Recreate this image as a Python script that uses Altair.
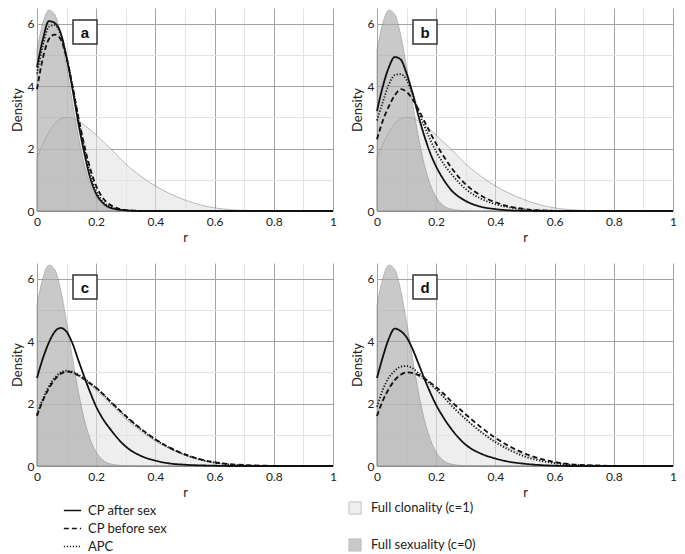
import altair as alt
import pandas as pd

# ---- data ----
R = [0.0, 0.02, 0.04, 0.06, 0.08, 0.10, 0.12, 0.14, 0.16, 0.18, 0.20, 0.22, 0.25,
     0.30, 0.35, 0.40, 0.45, 0.50, 0.55, 0.60, 0.65, 0.70, 0.80, 0.90, 1.00]

SEXUALITY = [5.15, 6.02, 6.43, 6.29, 5.63, 4.60, 3.45, 2.36, 1.48, 0.85, 0.44, 0.21, 0.06,
             0.01, 0, 0, 0, 0, 0, 0, 0, 0, 0, 0, 0]
CLONALITY = [1.70, 2.15, 2.52, 2.80, 2.95, 3.00, 2.97, 2.88, 2.75, 2.60, 2.43, 2.25, 1.98,
             1.50, 1.12, 0.80, 0.55, 0.35, 0.20, 0.10, 0.045, 0.02, 0.003, 0, 0]

A_SOLID = [4.60, 5.50, 6.08, 6.02, 5.70, 4.90, 3.90, 2.80, 1.85, 1.05, 0.55, 0.28, 0.10,
           0.02, 0, 0, 0, 0, 0, 0, 0, 0, 0, 0, 0]
A_DASH = [3.90, 4.90, 5.50, 5.65, 5.50, 4.90, 4.00, 3.00, 2.10, 1.35, 0.80, 0.45, 0.18,
          0.03, 0.005, 0, 0, 0, 0, 0, 0, 0, 0, 0, 0]
A_DOT = [4.40, 5.30, 5.90, 5.95, 5.65, 4.95, 4.00, 2.95, 2.00, 1.20, 0.65, 0.33, 0.12,
         0.02, 0, 0, 0, 0, 0, 0, 0, 0, 0, 0, 0]

B_SOLID = [3.20, 4.00, 4.60, 4.93, 4.85, 4.40, 3.78, 3.05, 2.40, 1.85, 1.42, 1.08, 0.68,
           0.32, 0.14, 0.06, 0.02, 0.005, 0, 0, 0, 0, 0, 0, 0]
B_DASH = [2.30, 2.90, 3.35, 3.70, 3.90, 3.82, 3.58, 3.25, 2.88, 2.50, 2.15, 1.83, 1.40,
          0.85, 0.50, 0.28, 0.14, 0.06, 0.02, 0.005, 0, 0, 0, 0, 0]
B_DOT = [2.90, 3.50, 4.05, 4.35, 4.38, 4.20, 3.75, 3.20, 2.72, 2.28, 1.90, 1.58, 1.20,
         0.70, 0.40, 0.22, 0.11, 0.05, 0.02, 0.005, 0, 0, 0, 0, 0]

C_SOLID = [2.82, 3.45, 3.95, 4.30, 4.42, 4.30, 3.92, 3.38, 2.85, 2.35, 1.90, 1.55, 1.15,
           0.62, 0.33, 0.17, 0.08, 0.04, 0.02, 0.01, 0, 0, 0, 0, 0]
C_DASH = [1.60, 2.10, 2.48, 2.77, 2.95, 3.02, 2.99, 2.90, 2.78, 2.64, 2.50, 2.33, 2.05,
          1.60, 1.20, 0.86, 0.58, 0.37, 0.22, 0.12, 0.06, 0.03, 0.005, 0, 0]
C_DOT = [1.65, 2.15, 2.55, 2.83, 3.00, 3.05, 3.02, 2.92, 2.79, 2.65, 2.50, 2.33, 2.04,
         1.58, 1.18, 0.84, 0.57, 0.36, 0.21, 0.11, 0.05, 0.02, 0.003, 0, 0]

D_SOLID = [2.82, 3.50, 4.08, 4.40, 4.32, 4.12, 3.75, 3.28, 2.80, 2.35, 1.95, 1.62, 1.20,
           0.68, 0.40, 0.24, 0.13, 0.07, 0.03, 0.01, 0, 0, 0, 0, 0]
D_DASH = [1.60, 2.10, 2.47, 2.75, 2.92, 3.00, 2.98, 2.91, 2.80, 2.67, 2.52, 2.36, 2.08,
          1.65, 1.25, 0.90, 0.62, 0.40, 0.24, 0.13, 0.06, 0.03, 0.005, 0, 0]
D_DOT = [1.90, 2.45, 2.83, 3.05, 3.18, 3.20, 3.13, 2.98, 2.82, 2.64, 2.45, 2.26, 1.95,
         1.50, 1.10, 0.76, 0.50, 0.30, 0.17, 0.09, 0.04, 0.02, 0.003, 0, 0]

SERIES = ["CP after sex", "CP before sex", "APC"]
AREA_KINDS = ["Full clonality (c=1)", "Full sexuality (c=0)"]
X_TICKS = [0, 0.1, 0.2, 0.3, 0.4, 0.5, 0.6, 0.7, 0.8, 0.9, 1]
Y_TICKS = [0, 1, 2, 3, 4, 5, 6]

# ---- layout / style ----
W, H = 296, 203
FONT = "Lato"
TXT = "#222222"
MAJOR = "#a3a3a3"
MINOR = "#e3e3e3"

area_df = pd.DataFrame({
    "r": R + R,
    "density": CLONALITY + SEXUALITY,
    "kind": [AREA_KINDS[0]] * len(R) + [AREA_KINDS[1]] * len(R),
})

x_enc = alt.X(
    "r:Q", title="r",
    scale=alt.Scale(domain=[0, 1], nice=False),
    axis=alt.Axis(
        values=X_TICKS,
        labelExpr="round(datum.value*10) % 2 == 0 ? format(datum.value, '~g') : ''",
        gridColor=alt.condition("round(datum.value*10) % 2 == 0", alt.value(MAJOR), alt.value(MINOR)),
        ticks=False, domain=False, labelFlush=False, labelPadding=5, titlePadding=4,
    ),
)
y_enc = alt.Y(
    "density:Q", title="Density", stack=None,
    scale=alt.Scale(domain=[0, 6.5], nice=False),
    axis=alt.Axis(
        values=Y_TICKS,
        labelExpr="datum.value % 2 == 0 ? datum.label : ''",
        gridColor=alt.condition("datum.value % 2 == 0", alt.value(MAJOR), alt.value(MINOR)),
        ticks=False, domain=False, labelPadding=3, titlePadding=3,
    ),
)

fill_enc = alt.Fill(
    "kind:N",
    scale=alt.Scale(domain=AREA_KINDS, range=["#e4e4e4", "#a6a6a6"]),
    legend=alt.Legend(
        title=None, orient="none", legendX=311, legendY=493,
        symbolType="square", symbolSize=150, symbolStrokeColor="#8a8a8a",
        symbolStrokeWidth=0.8, symbolOpacity=0.6, rowPadding=21,
        labelFontSize=13, labelOffset=9, labelColor=TXT,
    ),
)
dash_enc = alt.StrokeDash(
    "series:N", sort=SERIES,
    scale=alt.Scale(domain=SERIES, range=[[1, 0], [5, 3], [1.2, 1.8]]),
    legend=alt.Legend(
        title=None, orient="none", legendX=26, legendY=493,
        symbolType="stroke", symbolSize=300, symbolStrokeWidth=1.6,
        symbolStrokeColor="#111111", rowPadding=1,
        labelFontSize=13, labelOffset=6, labelColor=TXT,
    ),
)


def panel(letter, solid, dashed, dotted):
    n = len(R)
    line_df = pd.DataFrame({
        "r": R * 3,
        "density": solid + dashed + dotted,
        "series": [SERIES[0]] * n + [SERIES[1]] * n + [SERIES[2]] * n,
    })
    areas = alt.Chart(area_df).mark_area(
        opacity=0.6, stroke="#707070", strokeWidth=0.8, interpolate="monotone"
    ).encode(x=x_enc, y=y_enc, fill=fill_enc)
    lines = alt.Chart(line_df).mark_line(
        color="#111111", strokeWidth=1.8, interpolate="monotone"
    ).encode(x=x_enc, y=y_enc, strokeDash=dash_enc)
    lab_df = pd.DataFrame({"panel": [letter]})
    box = alt.Chart(lab_df).mark_point(
        shape="square", size=576, filled=True, fill="white", stroke="#333333",
        strokeWidth=1.5, opacity=1,
    ).encode(x=alt.value(48), y=alt.value(24))
    text = alt.Chart(lab_df).mark_text(
        font="Liberation Sans", fontWeight="bold", fontSize=15, color="#111111",
        baseline="middle", align="center",
    ).encode(x=alt.value(48), y=alt.value(25), text="panel:N")
    return alt.layer(areas, lines, box, text).properties(width=W, height=H)


pa = panel("a", A_SOLID, A_DASH, A_DOT)
pb = panel("b", B_SOLID, B_DASH, B_DOT)
pc = panel("c", C_SOLID, C_DASH, C_DOT)
pd_ = panel("d", D_SOLID, D_DASH, D_DOT)

chart = alt.vconcat(
    alt.hconcat(pa, pb, spacing=14),
    alt.hconcat(pc, pd_, spacing=14),
    spacing=19,
).properties(
    padding={"left": 3, "top": 0, "right": 0, "bottom": 0}
).configure(
    font=FONT,
).configure_view(
    stroke=None
).configure_axis(
    labelFontSize=12, titleFontSize=13, labelColor=TXT, titleColor=TXT,
    titleFontWeight="normal", labelFont=FONT, titleFont=FONT,
).configure_legend(
    labelFont=FONT,
)

chart.save("out.html", embed_options={"renderer": "svg", "actions": False})
